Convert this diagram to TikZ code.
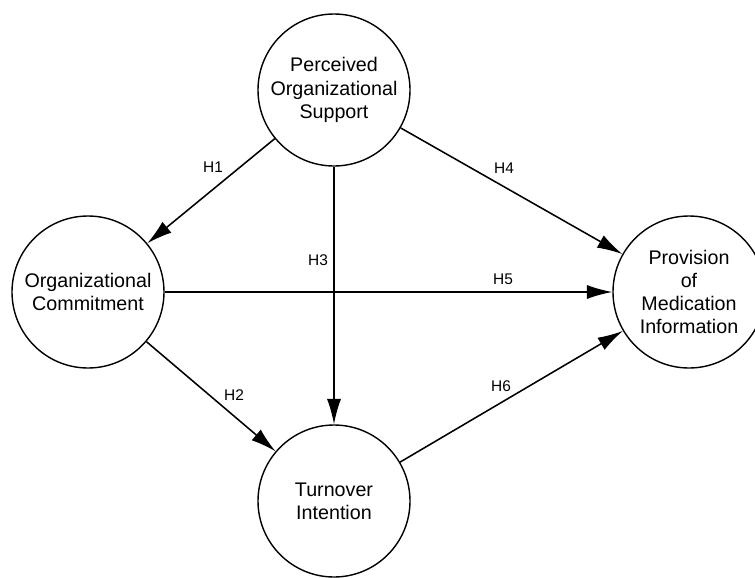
\documentclass[tikz,border=0pt]{standalone}
\usepackage{fontspec}
\setmainfont{Liberation Sans}
\usetikzlibrary{arrows.meta}

\tikzset{
  construct/.style={draw, circle, line width=1pt, minimum size=3.8cm, inner sep=0pt,
    align=center, font=\fontsize{14}{16.5}\selectfont},
  hyp/.style={font=\fontsize{11}{13}\selectfont},
  path/.style={-{Latex[length=18pt,width=10pt]}, line width=1.1pt}
}

\begin{document}
\begin{tikzpicture}

\useasboundingbox (0,0) rectangle (18.875,-14.425);

% Nodes
\node[construct] (pos) at (8.35, -2.25) {Perceived\\Organizational\\Support};
\node[construct] (oc) at (2.2, -7.3) {Organizational\\Commitment};
\node[construct] (pmi) at (17.225, -7.3) {Provision\\of\\Medication\\Information};
\node[construct] (ti) at (8.35, -12.525) {Turnover\\Intention};

% Labels
\node[hyp] (h1) at (5.325, -4.175) {H1};
\node[hyp] (h2) at (5.85, -9.875) {H2};
\node[hyp] (h3) at (7.95, -6.5) {H3};
\node[hyp] (h4) at (12.6, -4.2) {H4};
\node[hyp] (h5) at (12.575, -6.975) {H5};
\node[hyp] (h6) at (12.525, -9.65) {H6};

% Arrows
\draw[path] (pos) -- (oc);
\draw[path] (oc) -- (ti);
\draw[path] (pos) -- (ti);
\draw[path] (pos) -- (pmi);
\draw[path] (oc) -- (pmi);
\draw[path] (ti) -- (pmi);

\end{tikzpicture}
\end{document}
